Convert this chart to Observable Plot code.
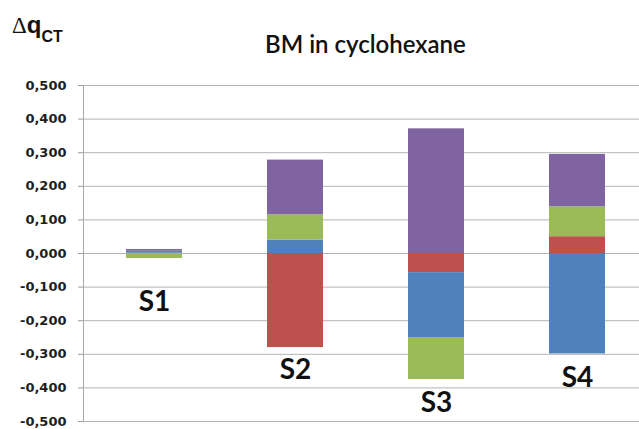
<!DOCTYPE html>
<html>
<head>
<meta charset="utf-8">
<script src="https://cdn.jsdelivr.net/npm/d3@7"></script>
<script src="https://cdn.jsdelivr.net/npm/@observablehq/plot@0.6"></script>
<style>
  html, body { margin: 0; padding: 0; background: #fff; }
  #chart { position: relative; width: 639px; height: 429px; }
</style>
</head>
<body>
<div id="chart"></div>
<script>
// ---- data ----
const categories = ["S1", "S2", "S3", "S4"];
const seriesNames = ["Series 1", "Series 2", "Series 3", "Series 4"];   // stacking order
const seriesColors = ["#C0504D", "#4F81BD", "#9BBB59", "#8064A2"];
const series1Values = [0.001, -0.280, -0.057,  0.050];   // red
const series2Values = [0.006,  0.040, -0.193, -0.299];   // blue
const series3Values = [-0.015, 0.075, -0.125,  0.089];   // green
const series4Values = [0.005,  0.163,  0.371,  0.156];   // purple
const yTicks = [-0.5, -0.4, -0.3, -0.2, -0.1, 0, 0.1, 0.2, 0.3, 0.4, 0.5];
const yTickLabels = ["-0,500", "-0,400", "-0,300", "-0,200", "-0,100", "0,000", "0,100", "0,200", "0,300", "0,400", "0,500"];
const labelY = [-0.143, -0.348, -0.445, -0.372];
const titleText = "BM in cyclohexane";

// ---- table ----
const valueLists = [series1Values, series2Values, series3Values, series4Values];
const table = [];
seriesNames.forEach((s, i) => {
  categories.forEach((c, j) => table.push({series: s, category: c, value: valueLists[i][j]}));
});
const labels = categories.map((c, j) => ({category: c, y: labelY[j]}));
const fmt = (v) => yTickLabels[yTicks.findIndex(t => Math.abs(t - v) < 1e-9)];

const plot = Plot.plot({
  width: 639,
  height: 429,
  marginLeft: 83,
  marginRight: 0,
  marginTop: 85,
  marginBottom: 8,
  style: {background: "#fff", fontFamily: "DejaVu Sans"},
  x: {domain: categories, range: [83, 649], paddingInner: 0.6, paddingOuter: 0.3, axis: null},
  y: {domain: [-0.5, 0.5], axis: null},
  color: {domain: seriesNames, range: seriesColors},
  marks: [
    Plot.ruleY(yTicks, {stroke: "#b4b4b4", strokeWidth: 1}),
    Plot.frame({anchor: "left", stroke: "#a8a8a8"}),
    Plot.axisY({
      ticks: yTicks, tickFormat: fmt, tickSize: 5, tickPadding: 12,
      stroke: "#a0a0a0", fill: "#1e1e1e", fontSize: 13, fontWeight: "bold",
      fontFamily: "DejaVu Sans"
    }),
    Plot.barY(table, {x: "category", y: "value", fill: "series"}),
    Plot.text(labels, {
      x: "category", y: "y", text: "category",
      fontSize: 28, fontWeight: "bold", fontFamily: "Lato", fill: "#111"
    })
  ]
});

const svg = d3.select(plot);
// title
svg.append("text")
  .attr("x", 265).attr("y", 53)
  .attr("text-anchor", "start")
  .attr("font-family", "Lato").attr("font-size", 24).attr("font-weight", 600)
  .attr("fill", "#111")
  .text(titleText);
// axis label Δq_CT
const lab = svg.append("text").attr("x", 12).attr("y", 33)
  .attr("text-anchor", "start").attr("fill", "#111");
lab.append("tspan").attr("font-family", "Liberation Serif").attr("font-size", 23).text("Δ");
lab.append("tspan").attr("font-family", "Liberation Sans").attr("font-weight", "bold").attr("font-size", 24).text("q");
lab.append("tspan").attr("font-family", "Liberation Sans").attr("font-weight", "bold").attr("font-size", 16).attr("dy", 9).text("CT");

document.getElementById("chart").appendChild(plot);
</script>
</body>
</html>
